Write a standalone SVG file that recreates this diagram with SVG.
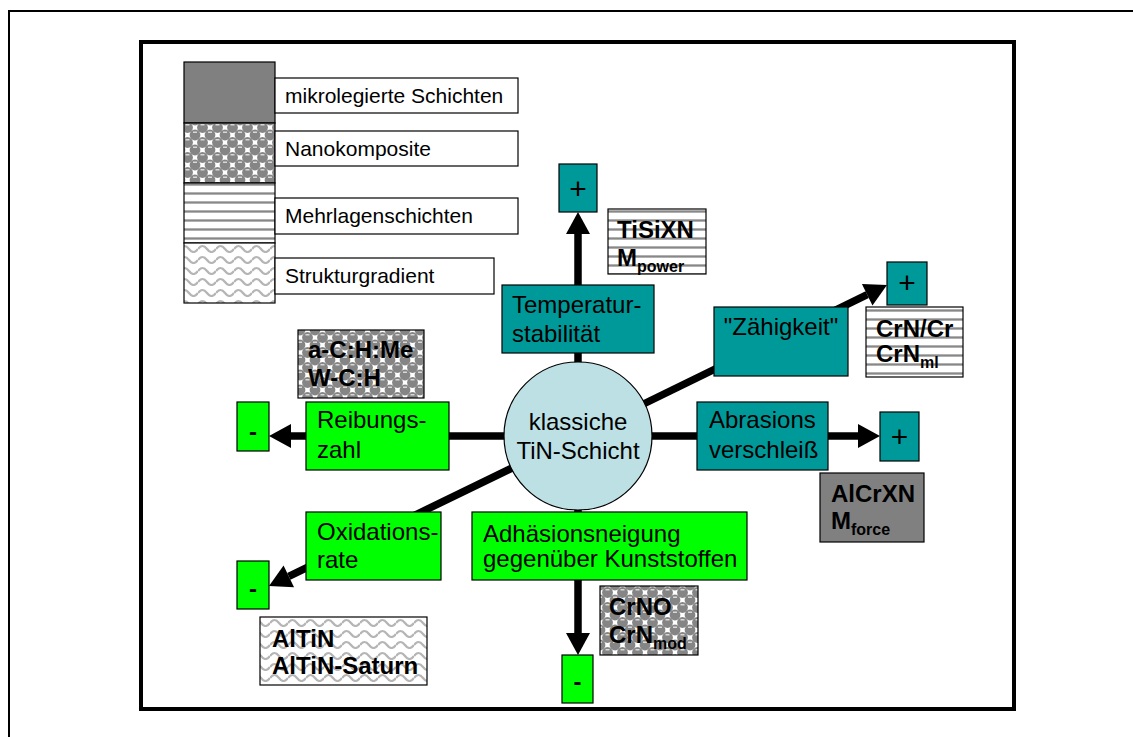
<svg xmlns="http://www.w3.org/2000/svg" width="1133" height="737" viewBox="0 0 1133 737">
<style>
text{font-family:"Liberation Sans",Arial,sans-serif;fill:#000}
.lg{font-size:21px}
.lb{font-size:24px}
.pl{font-size:30px}
.bd{font-size:24px;font-weight:bold}
.sub{font-size:16px;font-weight:bold}
.box{stroke:#000;stroke-width:1.2}
.teal{fill:#009999}
.green{fill:#00ff00}
.conn{stroke:#000;stroke-width:7.5;fill:none}
</style>
<defs>
<pattern id="balls" patternUnits="userSpaceOnUse" width="15" height="15">
<rect width="15" height="15" fill="#fff"/>
<g fill="#858585">
<circle cx="7.5" cy="7.5" r="5.4"/>
<circle cx="0" cy="0" r="5.4"/><circle cx="15" cy="0" r="5.4"/><circle cx="0" cy="15" r="5.4"/><circle cx="15" cy="15" r="5.4"/>
</g>
<g fill="#d8d8d8">
<rect x="5.5" y="4" width="4" height="1.5"/>
<rect x="-2" y="11.5" width="4" height="1.5"/><rect x="13" y="11.5" width="4" height="1.5"/>
</g>
</pattern>
<pattern id="stripes" patternUnits="userSpaceOnUse" width="10" height="9">
<rect width="10" height="9" fill="#fff"/>
<rect y="3" width="10" height="3" fill="#b0b0b0"/>
<rect y="4" width="10" height="1" fill="#888"/>
</pattern>
<pattern id="waves" patternUnits="userSpaceOnUse" width="18" height="11">
<rect width="18" height="11" fill="#fff"/>
<path d="M0,7 Q4.5,1 9,7 T18,7" fill="none" stroke="#b5b5b5" stroke-width="2.2"/>
</pattern>
<marker id="ah" markerUnits="userSpaceOnUse" markerWidth="24" markerHeight="26" refX="0" refY="12" orient="auto" overflow="visible">
<path d="M0,0 L22,12 L0,24 Z" fill="#000"/>
</marker>
</defs>

<rect width="1133" height="737" fill="#fff"/>
<path d="M1133,11 H9 V737" fill="none" stroke="#000" stroke-width="2"/>
<rect x="141" y="42" width="873" height="667" fill="none" stroke="#000" stroke-width="4"/>

<g id="legend">
<rect x="184" y="62" width="91" height="61" fill="#808080" class="box"/>
<rect x="184" y="123" width="91" height="60" fill="url(#balls)" class="box"/>
<rect x="184" y="183" width="91" height="60" fill="url(#stripes)" class="box"/>
<rect x="184" y="243" width="91" height="60" fill="url(#waves)" class="box"/>
<rect x="275" y="78" width="243" height="35" fill="#fff" class="box"/>
<text x="285" y="103" class="lg">mikrolegierte Schichten</text>
<rect x="275" y="131" width="243" height="35" fill="#fff" class="box"/>
<text x="285" y="156" class="lg">Nanokomposite</text>
<rect x="275" y="198" width="243" height="36" fill="#fff" class="box"/>
<text x="285" y="223" class="lg">Mehrlagenschichten</text>
<rect x="275" y="258" width="219" height="36" fill="#fff" class="box"/>
<text x="285" y="283" class="lg">Strukturgradient</text>
</g>

<g id="connectors">
<line x1="578" y1="436" x2="578" y2="234" class="conn" marker-end="url(#ah)"/>
<line x1="578" y1="436" x2="858" y2="436" class="conn" marker-end="url(#ah)"/>
<line x1="578" y1="436" x2="291" y2="436" class="conn" marker-end="url(#ah)"/>
<line x1="578" y1="436" x2="578" y2="633" class="conn" marker-end="url(#ah)"/>
<line x1="578" y1="436" x2="867.2" y2="294.7" class="conn" marker-end="url(#ah)"/>
<line x1="578" y1="436" x2="288.8" y2="576.4" class="conn" marker-end="url(#ah)"/>
</g>

<g id="center">
<circle cx="578" cy="436" r="74" fill="#bde0e4" stroke="#000" stroke-width="1.2"/>
<text x="578" y="430" class="lb" text-anchor="middle">klassiche</text>
<text x="578" y="459" class="lb" text-anchor="middle">TiN-Schicht</text>
</g>

<g id="temperatur">
<rect x="502" y="285" width="152" height="68" class="box teal"/>
<text x="512" y="313" class="lb">Temperatur-</text>
<text x="512" y="342" class="lb">stabilität</text>
</g>
<g id="plus-top">
<rect x="559" y="164" width="38" height="48" class="box teal"/>
<text x="578" y="199" class="pl" text-anchor="middle">+</text>
</g>
<g id="tisixn">
<rect x="608" y="209" width="98" height="65" fill="url(#stripes)" class="box"/>
<text x="617" y="238" class="bd">TiSiXN</text>
<text x="617" y="266" class="bd">M<tspan class="sub" dy="6">power</tspan></text>
</g>

<g id="zaehigkeit">
<rect x="714" y="307" width="134" height="69" class="box teal"/>
<text x="781" y="335" class="lb" text-anchor="middle">"Zähigkeit"</text>
</g>
<g id="plus-ur">
<rect x="887" y="262" width="40" height="43" class="box teal"/>
<text x="907" y="293" class="pl" text-anchor="middle">+</text>
</g>
<g id="crncr">
<rect x="866" y="307" width="97" height="70" fill="url(#stripes)" class="box"/>
<text x="876" y="337" class="bd">CrN/Cr</text>
<text x="876" y="362" class="bd">CrN<tspan class="sub" dy="6">ml</tspan></text>
</g>

<g id="abrasion">
<rect x="697" y="402" width="131" height="68" class="box teal"/>
<text x="709" y="428" class="lb">Abrasions</text>
<text x="709" y="458" class="lb">verschleiß</text>
</g>
<g id="plus-r">
<rect x="880" y="412" width="39" height="49" class="box teal"/>
<text x="899.5" y="447" class="pl" text-anchor="middle">+</text>
</g>
<g id="alcrxn">
<rect x="820" y="473" width="104" height="69" fill="#808080" class="box"/>
<text x="831" y="502" class="bd">AlCrXN</text>
<text x="831" y="529" class="bd">M<tspan class="sub" dy="6">force</tspan></text>
</g>

<g id="reibung">
<rect x="306" y="402" width="143" height="68" class="box green"/>
<text x="317" y="428" class="lb">Reibungs-</text>
<text x="317" y="458" class="lb">zahl</text>
</g>
<g id="minus-l">
<rect x="237" y="402" width="32" height="49" class="box green"/>
<text x="253" y="440" class="bd" text-anchor="middle">-</text>
</g>
<g id="acme">
<rect x="298" y="330" width="126" height="68" fill="url(#balls)" class="box"/>
<text x="308" y="358" class="bd">a-C:H:Me</text>
<text x="308" y="386" class="bd">W-C:H</text>
</g>

<g id="oxidation">
<rect x="306" y="512" width="135" height="68" class="box green"/>
<text x="317" y="540" class="lb">Oxidations-</text>
<text x="317" y="568" class="lb">rate</text>
</g>
<g id="minus-ll">
<rect x="237" y="561" width="32" height="48" class="box green"/>
<text x="253" y="597" class="bd" text-anchor="middle">-</text>
</g>
<g id="altin">
<rect x="260" y="617" width="167" height="68" fill="url(#waves)" class="box"/>
<text x="272" y="647" class="bd">AlTiN</text>
<text x="272" y="674" class="bd">AlTiN-Saturn</text>
</g>

<g id="adhaesion">
<rect x="472" y="512" width="275" height="68" class="box green"/>
<text x="483" y="542" class="lb">Adhäsionsneigung</text>
<text x="483" y="567" class="lb">gegenüber Kunststoffen</text>
</g>
<g id="minus-b">
<rect x="562" y="655" width="31" height="48" class="box green"/>
<text x="577.5" y="690" class="bd" text-anchor="middle">-</text>
</g>
<g id="crno">
<rect x="600" y="586" width="98" height="69" fill="url(#balls)" class="box"/>
<text x="609" y="615" class="bd">CrNO</text>
<text x="609" y="643" class="bd">CrN<tspan class="sub" dy="6">mod</tspan></text>
</g>
</svg>
